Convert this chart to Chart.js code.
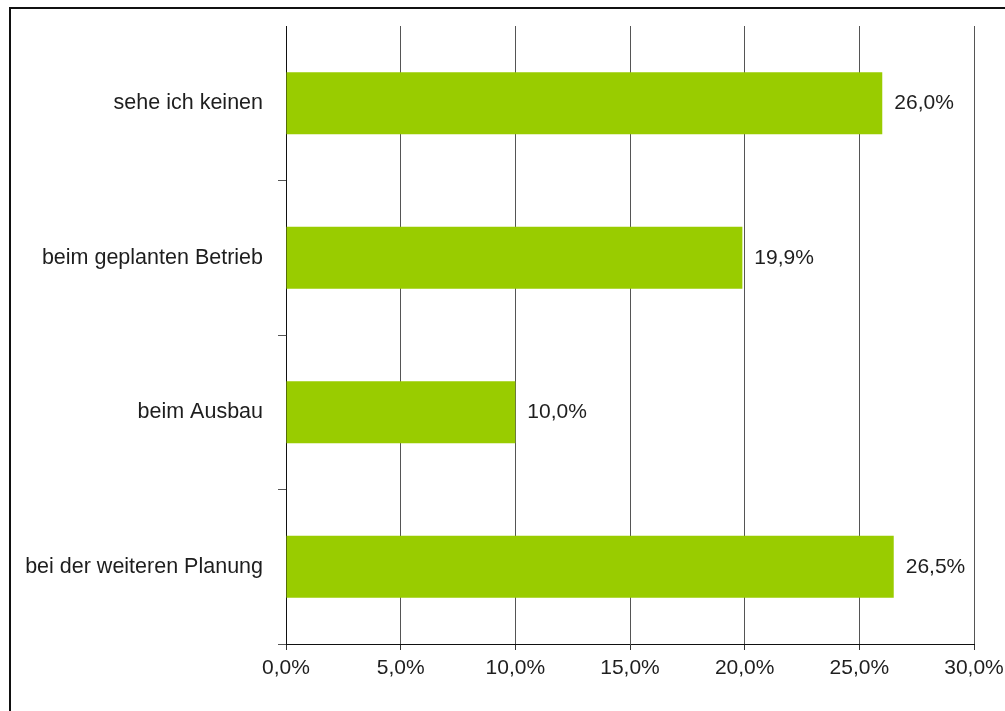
<!DOCTYPE html>
<html><head><meta charset="utf-8">
<script src="https://cdn.jsdelivr.net/npm/chart.js@4/dist/chart.umd.min.js"></script>
<style>
html,body{margin:0;padding:0;background:#fff;overflow:hidden}
#wrap{position:relative;width:1005px;height:711px;overflow:hidden}
#frame{position:absolute;left:9px;top:7px;width:1100px;height:800px;border-left:2px solid #111;border-top:2px solid #111;pointer-events:none}
canvas{position:absolute;left:0;top:0}
</style></head><body>
<div id="wrap"><canvas id="c" width="1005" height="711"></canvas><div id="frame"></div></div>
<script>
const categories = ['sehe ich keinen', 'beim geplanten Betrieb', 'beim Ausbau', 'bei der weiteren Planung'];
const values = [26.0, 19.9, 10.0, 26.5];
const valueLabels = ['26,0%', '19,9%', '10,0%', '26,5%'];
const xTickLabels = ['0,0%', '5,0%', '10,0%', '15,0%', '20,0%', '25,0%', '30,0%'];

const FONT = '"Liberation Sans", Arial, sans-serif';
const TXT = '#1e1e1e';

const barLabels = {
  id: 'barLabels',
  afterDatasetsDraw(chart) {
    const ctx = chart.ctx;
    const meta = chart.getDatasetMeta(0);
    ctx.save();
    ctx.font = '21px ' + FONT;
    ctx.fillStyle = TXT;
    ctx.textAlign = 'left';
    ctx.textBaseline = 'middle';
    meta.data.forEach((bar, i) => {
      ctx.fillText(valueLabels[i], bar.x + 12, bar.y);
    });
    ctx.restore();
  }
};

new Chart(document.getElementById('c'), {
  type: 'bar',
  data: {
    labels: categories,
    datasets: [{
      data: values,
      backgroundColor: '#99CC00',
      borderWidth: 0,
      categoryPercentage: 1.0,
      barPercentage: 0.4
    }]
  },
  options: {
    indexAxis: 'y',
    responsive: false,
    animation: false,
    devicePixelRatio: 1,
    layout: { padding: { top: 26, right: 31, left: 0, bottom: 0 } },
    plugins: { legend: { display: false }, tooltip: { enabled: false } },
    scales: {
      x: {
        min: 0, max: 30,
        afterFit: s => { s.height = 67; s.paddingLeft = 0; s.paddingRight = 0; },
        ticks: {
          stepSize: 5,
          color: TXT,
          font: { family: FONT, size: 21 },
          padding: 6,
          maxRotation: 0,
          callback: (v, i) => xTickLabels[i]
        },
        grid: { color: '#555', lineWidth: 1, tickLength: 6, tickColor: '#333' },
        border: { display: true, color: '#111', width: 1 }
      },
      y: {
        afterFit: s => { s.width = 286; s.paddingTop = 0; s.paddingBottom = 0; },
        ticks: {
          color: TXT,
          font: { family: FONT, size: 21.5 },
          padding: 15
        },
        grid: {
          drawOnChartArea: false, drawTicks: true, tickLength: 8, offset: true,
          tickColor: c => (c.index === 0 ? 'rgba(0,0,0,0)' : '#555')
        },
        border: { display: true, color: '#111', width: 1 }
      }
    }
  },
  plugins: [barLabels]
});
</script>
</body></html>
